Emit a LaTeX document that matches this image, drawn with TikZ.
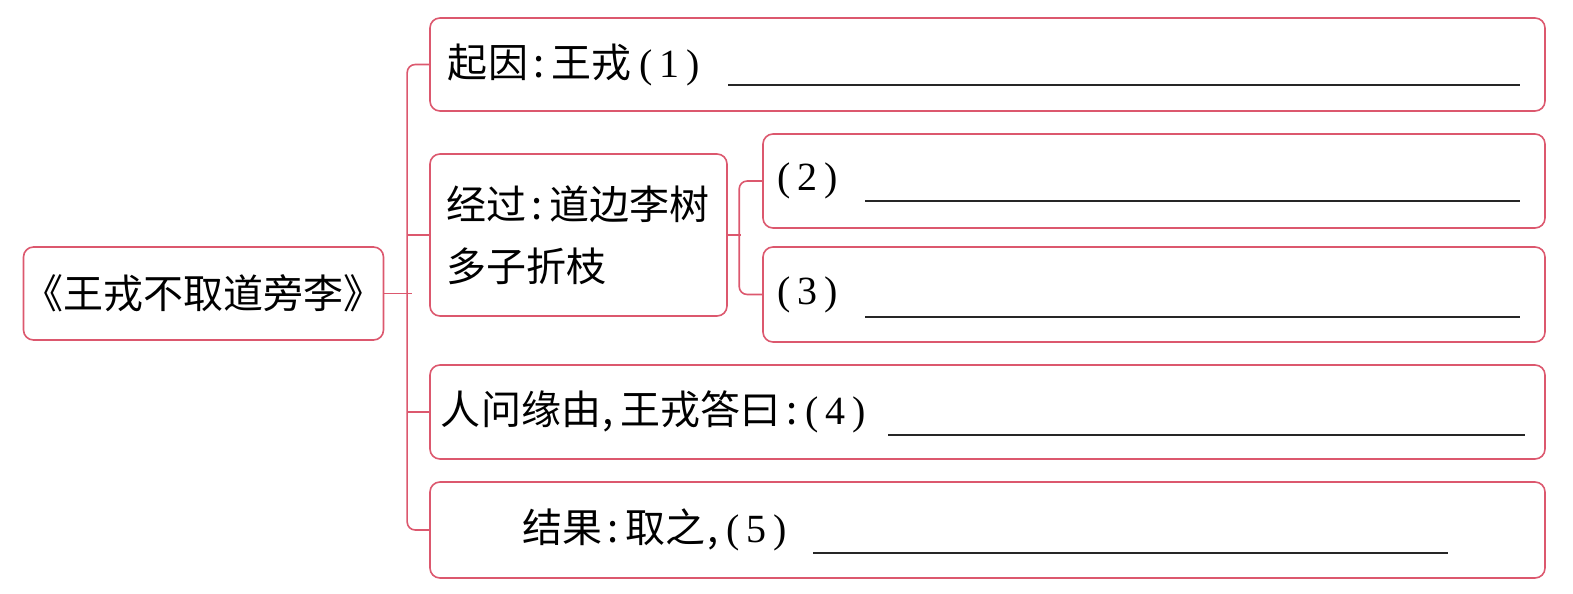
\documentclass[tikz,border=0pt]{standalone}
\usepackage{fontspec}
\setmainfont{Noto Sans CJK SC}
\newfontfamily\serif{Liberation Serif}
\definecolor{mapred}{RGB}{220,88,110}
\newcommand{\paren}[1]{{\serif\kern8bp(\kern7bp #1\kern7bp)}}
\newcommand{\sepcolon}{\kern6bp:\kern6bp}
\newcommand{\sepcomma}{\kern2bp,\kern6bp}
\tikzset{
  box/.style={draw=mapred, line width=1.6bp, rounded corners=10bp, inner ysep=0pt,
    font=\fontsize{40bp}{62bp}\selectfont},
  leftbox/.style={box, align=left},
  link/.style={draw=mapred, line width=1.6bp, rounded corners=8bp},
  blank/.style={line width=1.8bp, black!85}
}

\begin{document}
\begin{tikzpicture}[x=1bp, y=-1bp]
  \useasboundingbox (0,0) rectangle (1573,594);

  % title on the left
  \node[box, minimum width=353bp, minimum height=93bp, inner xsep=0pt] (title) at (203.5,293.5) {《王戎不取道旁李》};

  % branches
  \node[leftbox, text width=1079bp, inner xsep=18bp, minimum height=93bp] (cause) at (987.5,64.5) {起因\sepcolon 王戎\paren{1}};
  \node[leftbox, text width=265bp, inner xsep=16bp, minimum height=162bp] (process) at (578.5,235) {经过\sepcolon 道边李树\\多子折枝};
  \node[leftbox, text width=770bp, inner xsep=6bp, minimum height=94bp] (detailA) at (1154,181) {\paren{2}};
  \node[leftbox, text width=770bp, inner xsep=6bp, minimum height=95bp] (detailB) at (1154,294.5) {\paren{3}};
  \node[leftbox, text width=1093bp, inner xsep=11bp, minimum height=94bp] (answer) at (987.5,412) {人问缘由\sepcomma 王戎答曰\kern6bp:\paren{4}};
  \node[leftbox, text width=931bp, inner xsep=92bp, minimum height=96bp] (result) at (987.5,530) {结果\sepcolon 取之\sepcomma\kern-6bp\paren{5}};

  % connectors
  \draw[link] (title.east) -- ++(28,0);
  \draw[link] (cause.west) -- ++(-22,0) |- (result.west);
  \draw[link] (process.west) -- ++(-22,0);
  \draw[link] (answer.west) -- ++(-22,0);
  \draw[link] (process.east) -- ++(13,0);
  \draw[link] (detailA.west) -- ++(-23,0) |- (detailB.west);

  % blanks to fill in
  \draw[blank] (728,85) -- (1520,85);
  \draw[blank] (865,201) -- (1520,201);
  \draw[blank] (865,317) -- (1520,317);
  \draw[blank] (888,435) -- (1525,435);
  \draw[blank] (813,553) -- (1448,553);
\end{tikzpicture}
\end{document}
